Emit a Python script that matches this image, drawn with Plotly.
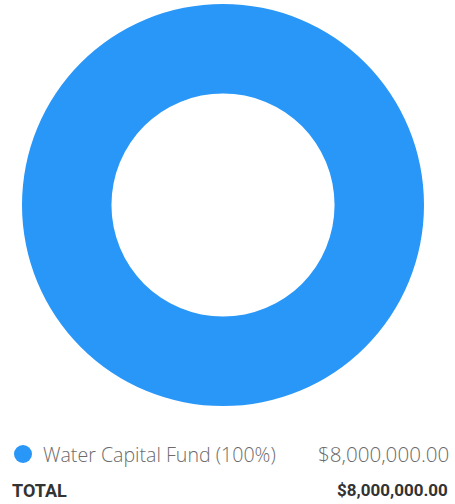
import plotly.graph_objects as go

labels = ["Water Capital Fund"]
values = [8000000.00]
colors = ["#2997F8"]

total = sum(values)

fig = go.Figure()
fig.add_trace(go.Pie(
    labels=labels, values=values, hole=0.555,
    marker=dict(colors=colors, line=dict(width=0)),
    textinfo="none", hoverinfo="label+percent+value",
    sort=False, showlegend=False,
    domain=dict(x=[22/455, 424/455], y=[98/504, 500/504]),
))

W, H = 455, 504
def py(y):
    return 1 - y / H

for i, (lab, val, col) in enumerate(zip(labels, values, colors)):
    yc = 454 + i * 30
    fig.add_shape(type="circle", xref="paper", yref="paper",
                  x0=14/W, x1=32/W, y0=py(yc+9), y1=py(yc-9),
                  fillcolor=col, line=dict(width=0))
    pct = val / total * 100
    fig.add_annotation(x=41/W, y=py(yc), xref="paper", yref="paper",
                       text=f"{lab} ({pct:.0f}%)", showarrow=False,
                       xanchor="left", yanchor="middle",
                       font=dict(family="Open Sans", size=19.6, weight=300, color="#6b6b6b"))
    fig.add_annotation(x=451/W, y=py(yc), xref="paper", yref="paper",
                       text=f"${val:,.2f}", showarrow=False,
                       xanchor="right", yanchor="middle",
                       font=dict(family="Open Sans", size=20.6, weight=300, color="#6b6b6b"))

fig.add_annotation(x=10/W, y=py(490), xref="paper", yref="paper",
                   text="<b>TOTAL</b>", showarrow=False,
                   xanchor="left", yanchor="middle",
                   font=dict(family="Roboto", size=18, color="#333333"))
fig.add_annotation(x=450/W, y=py(490), xref="paper", yref="paper",
                   text=f"<b>${total:,.2f}</b>", showarrow=False,
                   xanchor="right", yanchor="middle",
                   font=dict(family="Roboto", size=17, color="#333333"))

fig.update_layout(width=W, height=H, margin=dict(l=0, r=0, t=0, b=0),
                  paper_bgcolor="white", plot_bgcolor="white")
fig.write_html("out.html", config={"displayModeBar": False},
               post_script="document.body.style.margin='0px';")
